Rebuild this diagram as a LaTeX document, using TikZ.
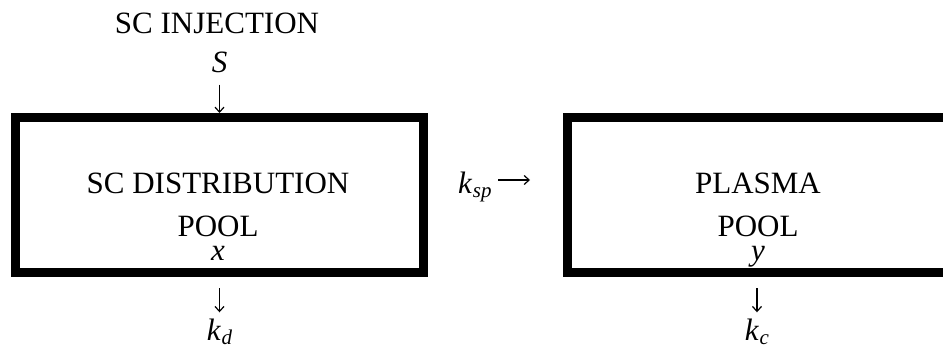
\documentclass[tikz,border=0pt]{standalone}
\usepackage{fontspec}
\setmainfont{Liberation Serif}
\usetikzlibrary{arrows.meta}
\tikzset{
  pool/.style={draw, line width=9pt, inner sep=0pt, minimum height=155pt},
  txt/.style={font=\fontsize{31}{43}\selectfont, inner sep=0pt, anchor=base},
  flow/.style={line width=1.2pt, -{Straight Barb[length=5pt,width=9pt]}},
}
\newcommand{\ksubscr}[1]{\textit{k}\kern0.5pt\raisebox{-0.15em}{\fontsize{21}{24}\selectfont\itshape #1}}
\begin{document}
\begin{tikzpicture}[x=1pt,y=-1pt]
\clip (0,0) rectangle (943,351);
\useasboundingbox (0,0) rectangle (943,351);
% boxes
\node[pool, minimum width=408pt] (lbox) at (219.5,195) {};
\node[pool, minimum width=381pt] (rbox) at (758,195) {};
% texts
\node[txt] (inj) at (217,33) {SC INJECTION};
\node[txt] (S) at (219.5,72) {\textit{S}};
\node[txt, align=center] (dist) at (218,260) {SC DISTRIBUTION\\POOL\\[-19pt]\textit{x}};
\node[txt, align=center] (plasma) at (758,260) {PLASMA\\POOL\\[-19pt]\textit{y}};
\node[txt, anchor=base west] (ksp) at (458,193) {\ksubscr{sp}};
\node[txt] (kd) at (219.5,340) {\ksubscr{d}};
\node[txt] (kc) at (757,340) {\ksubscr{c}};
\coordinate (kspstart) at (498,180);
\coordinate (kspend) at (530,180);
% arrows
\draw[flow, shorten <=12pt] (S.south) -- (S.south |- lbox.north);
\draw[flow] (kspstart) -- (kspend);
\draw[flow, shorten <=11pt, shorten >=6pt] (lbox.south) -- (lbox.south |- kd.north);
\draw[flow, shorten <=11pt, shorten >=6pt] (kc.north |- rbox.south) -- (kc.north);
\end{tikzpicture}
\end{document}
